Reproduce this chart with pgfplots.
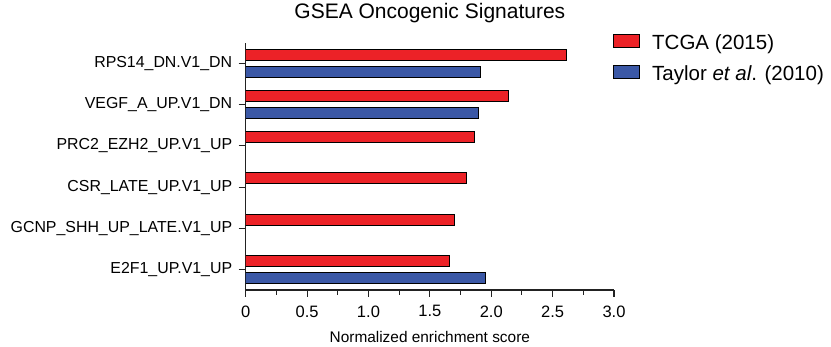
\documentclass[border=0pt]{standalone}
\usepackage{fontspec}
\setmainfont{Liberation Sans}
\usepackage{pgfplots}
\pgfplotsset{compat=1.18}
\definecolor{tcgared}{HTML}{EC2227}
\definecolor{taylorblue}{HTML}{3B58A6}
\definecolor{axgray}{HTML}{222222}
\begin{document}
\begin{tikzpicture}[x=1pt,y=1pt]
\useasboundingbox (0,0) rectangle (831,347);
\begin{axis}[
  at={(245.7pt,57pt)}, anchor=south west,
  scale only axis, width=368.3pt, height=247pt,
  xbar, bar width=11pt,
  xmin=0, xmax=3, ymin=-0.5, ymax=5.5,
  axis x line*=bottom, axis y line*=left,
  axis line style={line width=1.2pt, color=axgray},
  every tick/.style={line width=1.1pt, color=axgray},
  tick align=outside,
  major tick length=7pt, minor tick length=5pt,
  xtick={0,0.5,1,1.5,2,2.5,3},
  xticklabels={0,0.5,1.0,1.5,2.0,2.5,3.0},
  minor x tick num=1,
  ytick={0,1,2,3,4,5},
  yticklabels={E2F1\_UP.V1\_UP, GCNP\_SHH\_UP\_LATE.V1\_UP, CSR\_LATE\_UP.V1\_UP, PRC2\_EZH2\_UP.V1\_UP, VEGF\_A\_UP.V1\_DN, RPS14\_DN.V1\_DN},
  yticklabel style={font=\fontsize{15.9}{19}\selectfont, xshift=-3pt},
  xticklabel style={font=\fontsize{16.5}{19}\selectfont, yshift=-5pt},
  xlabel={Normalized enrichment score},
  xlabel style={font=\fontsize{15.4}{18}\selectfont, at={(axis description cs:0.5,0)}, anchor=base, yshift=-52.5pt},
  title={GSEA Oncogenic Signatures},
  title style={font=\fontsize{21}{25}\selectfont, at={(axis description cs:0.5,1)}, anchor=base, yshift=18.5pt},
  legend style={at={(rel axis cs:0.9965,1.0368)}, anchor=north west, draw=none, fill=none,
    inner sep=0pt, outer sep=0pt, row sep=10pt, column sep=0pt,
    font=\fontsize{20.5}{24}\selectfont,
    nodes={inner sep=0pt, text height=15pt, text depth=5pt}},
  legend cell align=left,
  legend image code/.code={\draw[#1, line width=1pt] (0pt,-2.6pt) rectangle (26.7pt,10.4pt); \path[draw=none,fill=none] (0pt,0pt) -- (39pt,0pt);},
]
\addplot[fill=tcgared, draw=black, line width=1pt, bar shift=8.6pt] coordinates {
  (2.61,5) (2.14,4) (1.86,3) (1.80,2) (1.70,1) (1.66,0)
};
\addlegendentry{TCGA (2015)}
\addplot[fill=taylorblue, draw=black, line width=1pt, bar shift=-8.6pt] coordinates {
  (1.91,5) (1.90,4) (1.95,0)
};
\addlegendentry{Taylor \textit{et al}. (2010)}
\end{axis}
\end{tikzpicture}
\end{document}
